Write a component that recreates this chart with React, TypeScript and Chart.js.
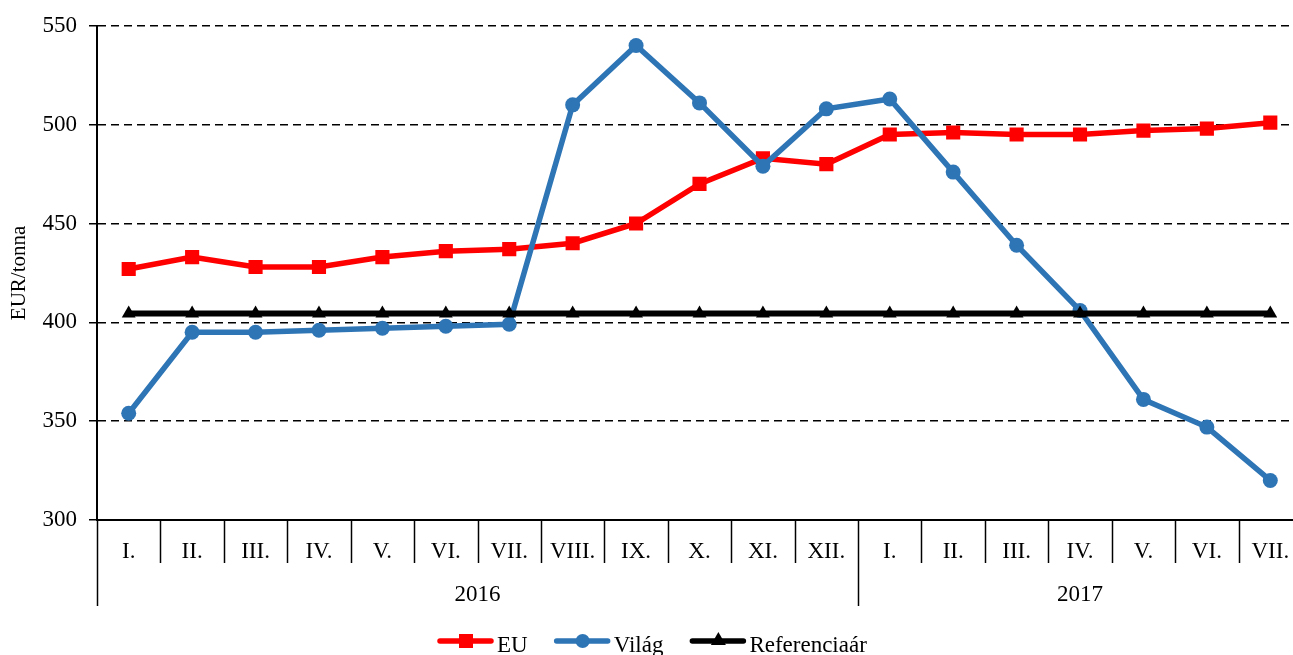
import React, { useEffect, useRef } from "react";
import { Chart, registerables } from "chart.js";

Chart.register(...registerables);

const months = ["I.", "II.", "III.", "IV.", "V.", "VI.", "VII.", "VIII.", "IX.", "X.", "XI.", "XII.", "I.", "II.", "III.", "IV.", "V.", "VI.", "VII."];
const years = ["2016", "2017"];
const yearSpans = [12, 7];
const euValues = [427, 433, 428, 428, 433, 436, 437, 440, 450, 470, 483, 480, 495, 496, 495, 495, 497, 498, 501];
const vilagValues = [354, 395, 395, 396, 397, 398, 399, 510, 540, 511, 479, 508, 513, 476, 439, 406, 361, 347, 320];
const refValues = [404.4, 404.4, 404.4, 404.4, 404.4, 404.4, 404.4, 404.4, 404.4, 404.4, 404.4, 404.4, 404.4, 404.4, 404.4, 404.4, 404.4, 404.4, 404.4];
const yTicks = [300, 350, 400, 450, 500, 550];
const seriesNames = ["EU", "Világ", "Referenciaár"];

const FONT = "'Liberation Serif', 'Times New Roman', serif";
const RED = "#FF0000";
const BLUE = "#2E75B6";
const BLACK = "#000000";
const FS = 23;
const CW = 1312;

const decorPlugin = {
  id: "decor",
  afterDraw(chart: any) {
    const { ctx, chartArea, scales } = chart;
    const x = scales.x;
    const n = months.length;
    const step = x.getPixelForValue(1) - x.getPixelForValue(0);
    const bottom = chartArea.bottom;
    ctx.save();
    ctx.strokeStyle = BLACK;
    ctx.lineWidth = 1.5;
    const longIdx: number[] = [0];
    let acc = 0;
    yearSpans.forEach((s) => {
      acc += s;
      longIdx.push(acc);
    });
    for (let i = 0; i <= n; i++) {
      const px = Math.round(x.getPixelForValue(i) - step / 2) + 0.5;
      const len = longIdx.includes(i) ? 86 : 43;
      ctx.beginPath();
      ctx.moveTo(px, bottom);
      ctx.lineTo(px, bottom + len);
      ctx.stroke();
    }
    // year labels
    ctx.fillStyle = BLACK;
    ctx.font = `${FS}px ${FONT}`;
    ctx.textAlign = "center";
    ctx.textBaseline = "alphabetic";
    let start = 0;
    years.forEach((yr, k) => {
      const end = start + yearSpans[k];
      const x0 = x.getPixelForValue(start) - step / 2;
      const x1 = x.getPixelForValue(end - 1) + step / 2;
      ctx.fillText(yr, (x0 + x1) / 2, bottom + 81);
      start = end;
    });
    // legend
    const items = [
      { name: seriesNames[0], color: RED, style: "rect" },
      { name: seriesNames[1], color: BLUE, style: "circle" },
      { name: seriesNames[2], color: BLACK, style: "triangle" },
    ];
    let lx = 438;
    const ly = 641;
    ctx.textAlign = "left";
    items.forEach((it) => {
      ctx.strokeStyle = it.color;
      ctx.fillStyle = it.color;
      ctx.lineWidth = 5.5;
      ctx.lineCap = "round";
      ctx.beginPath();
      ctx.moveTo(lx + 2, ly);
      ctx.lineTo(lx + 53, ly);
      ctx.stroke();
      const cx = lx + 28;
      ctx.beginPath();
      if (it.style === "rect") {
        ctx.rect(cx - 7, ly - 7, 14, 14);
      } else if (it.style === "circle") {
        ctx.arc(cx, ly, 7, 0, Math.PI * 2);
      } else {
        ctx.moveTo(cx, ly - 9);
        ctx.lineTo(cx + 7.5, ly + 4);
        ctx.lineTo(cx - 7.5, ly + 4);
        ctx.closePath();
      }
      ctx.fill();
      ctx.fillStyle = BLACK;
      ctx.fillText(it.name, lx + 59, 652);
      const w = ctx.measureText(it.name).width;
      lx = lx + 59 + w + 27;
    });
    ctx.restore();
  },
};

export default function App() {
  const ref = useRef<HTMLCanvasElement | null>(null);
  useEffect(() => {
    document.body.style.margin = "0";
    const canvas = ref.current;
    if (!canvas) return;
    const chart = new Chart(canvas, {
      type: "line",
      data: {
        labels: months,
        datasets: [
          {
            label: seriesNames[0],
            data: euValues,
            borderColor: RED,
            backgroundColor: RED,
            borderWidth: 5.5,
            pointStyle: "rect",
            pointRadius: 10,
            pointBorderWidth: 0,
            pointBackgroundColor: RED,
            order: 3,
          },
          {
            label: seriesNames[1],
            data: vilagValues,
            borderColor: BLUE,
            backgroundColor: BLUE,
            borderWidth: 5.5,
            pointStyle: "circle",
            pointRadius: 7.5,
            pointBorderWidth: 0,
            pointBackgroundColor: BLUE,
            order: 2,
          },
          {
            label: seriesNames[2],
            data: refValues,
            borderColor: BLACK,
            backgroundColor: BLACK,
            borderWidth: 6,
            pointStyle: "triangle",
            pointRadius: 8,
            pointBorderWidth: 0,
            pointBackgroundColor: BLACK,
            order: 1,
          },
        ],
      },
      options: {
        responsive: false,
        maintainAspectRatio: false,
        animation: false,
        devicePixelRatio: 1,
        layout: { padding: { top: 21, right: 0, bottom: 0, left: 0 } },
        plugins: {
          legend: { display: false },
          tooltip: { enabled: false },
        },
        scales: {
          x: {
            type: "category",
            offset: true,
            grid: { display: false },
            border: { display: true, color: BLACK, width: 2 },
            ticks: {
              color: BLACK,
              font: { family: FONT, size: FS },
              padding: 10,
              maxRotation: 0,
              autoSkip: false,
            },
            afterFit: (scale: any) => {
              scale.height = 135;
            },
          },
          y: {
            min: 300,
            max: 550,
            afterBuildTicks: (scale: any) => {
              scale.ticks = yTicks.map((v) => ({ value: v }));
            },
            grid: {
              color: BLACK,
              lineWidth: 1.5,
              tickLength: 8,
              tickColor: BLACK,
              tickWidth: 1.5,
              tickBorderDash: [],
            },
            border: { display: true, color: BLACK, width: 2, dash: [8, 5] },
            ticks: {
              color: BLACK,
              font: { family: FONT, size: FS },
              padding: 12,
            },
            title: {
              display: true,
              text: "EUR/tonna",
              color: BLACK,
              font: { family: FONT, size: 21 },
              padding: { top: 7, bottom: 0 },
            },
            afterFit: (scale: any) => {
              scale.width = 97;
            },
          },
        },
      },
      plugins: [decorPlugin],
    });
    return () => chart.destroy();
  }, []);
  return (
    <div style={{ width: 1293, height: 655, overflow: "hidden", position: "relative", background: "#fff" }}>
      <div style={{ width: CW, height: 655, position: "absolute", left: 0, top: 0 }}>
        <canvas ref={ref} width={CW} height={655} style={{ display: "block", width: CW, height: 655 }} />
      </div>
    </div>
  );
}
